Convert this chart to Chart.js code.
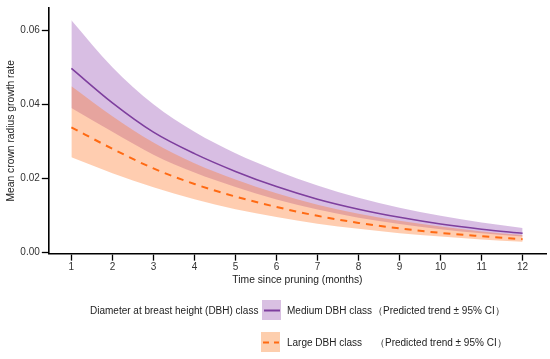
<!DOCTYPE html>
<html>
<head>
<meta charset="utf-8">
<script src="https://cdn.jsdelivr.net/npm/chart.js@4/dist/chart.umd.min.js"></script>
<style>
  html, body { margin: 0; padding: 0; background: #fff; }
  #wrap { position: relative; width: 550px; height: 359px; font-family: "Liberation Sans", Arial, sans-serif; color: #222; }
  #chart { position: absolute; left: 0; top: 0; }
  .lg-text { position: absolute; font-size: 10px; white-space: nowrap; line-height: 12px; }
  .swatch { position: absolute; width: 19px; height: 20px; }
</style>
</head>
<body>
<div id="wrap">
  <canvas id="chart" width="550" height="359"></canvas>
  <div class="lg-text" style="left:90px; top:305px;">Diameter at breast height (DBH) class</div>
  <div class="swatch" id="sw-medium" style="left:262px; top:300px;"></div>
  <div class="lg-text" style="left:287px; top:305px;">Medium DBH class</div>
  <div class="lg-text" style="left:373px; top:305px;">（Predicted trend ± 95% CI）</div>
  <div class="swatch" id="sw-large" style="left:261px; top:332px;"></div>
  <div class="lg-text" style="left:287px; top:337px;">Large DBH class</div>
  <div class="lg-text" style="left:375px; top:337px;">（Predicted trend ± 95% CI）</div>
</div>
<script>
// Données (taux moyen de croissance du rayon de couronne)
const months = [1, 2, 3, 4, 5, 6, 7, 8, 9, 10, 11, 12];
const yTicks = [0, 0.02, 0.04, 0.06];

const mediumMean  = [0.0497, 0.0404, 0.0325, 0.0267, 0.0219, 0.0178, 0.0144, 0.0117, 0.0095, 0.0077, 0.0063, 0.0052];
const mediumUpper = [0.0627, 0.0500, 0.0400, 0.0326, 0.0268, 0.0221, 0.0181, 0.0148, 0.0121, 0.0099, 0.0081, 0.0066];
const mediumLower = [0.0390, 0.0326, 0.0264, 0.0216, 0.0177, 0.0143, 0.0116, 0.0094, 0.0077, 0.0063, 0.0052, 0.0043];

const largeMean   = [0.0338, 0.0280, 0.0227, 0.0185, 0.0151, 0.0123, 0.0099, 0.0080, 0.0065, 0.0053, 0.0044, 0.0036];
const largeUpper  = [0.0449, 0.0368, 0.0297, 0.0241, 0.0197, 0.0160, 0.0129, 0.0105, 0.0086, 0.0070, 0.0057, 0.0047];
const largeLower  = [0.0257, 0.0214, 0.0176, 0.0144, 0.0117, 0.0096, 0.0078, 0.0064, 0.0052, 0.0043, 0.0035, 0.0029];

const purple = '#7e3f9e';
const orange = '#ff6a13';
const purpleFill = 'rgba(150, 80, 180, 0.37)';
const orangeFill = 'rgba(255, 120, 40, 0.37)';

function pts(values) {
    return months.map((m, i) => ({ x: m, y: values[i] }));
}

// Légende : petites cases colorées avec le trait
function drawSwatch(id, fill, color, dashed) {
    const el = document.getElementById(id);
    el.style.background = fill;
    const c = document.createElement('canvas');
    c.width = 19; c.height = 20;
    el.appendChild(c);
    const g = c.getContext('2d');
    g.strokeStyle = color;
    g.lineWidth = 2;
    if (dashed) g.setLineDash([6, 5]);
    g.beginPath();
    g.moveTo(2, 10.5);
    g.lineTo(18, 10.5);
    g.stroke();
}
drawSwatch('sw-medium', 'rgb(217,192,226)', purple, false);
drawSwatch('sw-large', 'rgb(253,206,173)', orange, true);

const fontFamily = '"Liberation Sans", Arial, sans-serif';

new Chart(document.getElementById('chart'), {
    type: 'line',
    data: {
        datasets: [
            {
                label: 'Medium DBH class',
                data: pts(mediumMean),
                borderColor: purple,
                borderWidth: 1.6,
                pointRadius: 0,
                fill: false,
                cubicInterpolationMode: 'monotone',
                order: 0
            },
            {
                label: 'Large DBH class',
                data: pts(largeMean),
                borderColor: orange,
                borderWidth: 2,
                borderDash: [7, 6],
                pointRadius: 0,
                fill: false,
                cubicInterpolationMode: 'monotone',
                order: 1
            },
            {
                label: 'medium upper',
                data: pts(mediumUpper),
                borderWidth: 0,
                pointRadius: 0,
                backgroundColor: purpleFill,
                fill: '+1',
                cubicInterpolationMode: 'monotone',
                order: 4
            },
            {
                label: 'medium lower',
                data: pts(mediumLower),
                borderWidth: 0,
                pointRadius: 0,
                fill: false,
                cubicInterpolationMode: 'monotone',
                order: 4
            },
            {
                label: 'large upper',
                data: pts(largeUpper),
                borderWidth: 0,
                pointRadius: 0,
                backgroundColor: orangeFill,
                fill: '+1',
                cubicInterpolationMode: 'monotone',
                order: 3
            },
            {
                label: 'large lower',
                data: pts(largeLower),
                borderWidth: 0,
                pointRadius: 0,
                fill: false,
                cubicInterpolationMode: 'monotone',
                order: 3
            }
        ]
    },
    options: {
        responsive: false,
        animation: false,
        layout: { padding: { left: 5, right: 4, top: 7, bottom: 73 } },
        plugins: {
            legend: { display: false },
            tooltip: { enabled: false }
        },
        scales: {
            x: {
                type: 'linear',
                min: 0.45,
                max: 12.57,
                afterBuildTicks: axis => { axis.ticks = months.map(v => ({ value: v })); },
                grid: { drawOnChartArea: false, drawTicks: true, tickLength: 7, tickColor: '#000', tickWidth: 1.3 },
                border: { display: true, color: '#000', width: 1.6 },
                ticks: { color: '#333', padding: 1, font: { family: fontFamily, size: 10 } },
                title: {
                    display: true,
                    text: 'Time since pruning (months)',
                    color: '#222',
                    padding: { top: -1, bottom: 0 },
                    font: { family: fontFamily, size: 10.3 }
                }
            },
            y: {
                min: -0.0003,
                max: 0.066,
                afterBuildTicks: axis => { axis.ticks = yTicks.map(v => ({ value: v })); },
                grid: { drawOnChartArea: false, drawTicks: true, tickLength: 7, tickColor: '#000', tickWidth: 1.3 },
                border: { display: true, color: '#000', width: 1.6 },
                ticks: {
                    color: '#333',
                    padding: 2,
                    font: { family: fontFamily, size: 10 },
                    callback: v => v.toFixed(2)
                },
                title: {
                    display: true,
                    text: 'Mean crown radius growth rate',
                    color: '#222',
                    padding: { top: 0, bottom: 1 },
                    font: { family: fontFamily, size: 10.3 }
                }
            }
        }
    }
});
</script>
</body>
</html>
